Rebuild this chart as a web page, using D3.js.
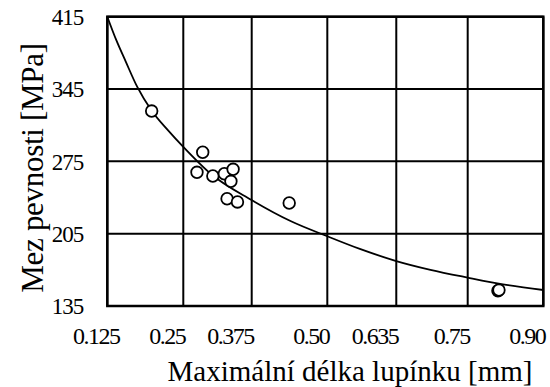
<!DOCTYPE html>
<html>
<head>
<meta charset="utf-8">
<script src="https://cdn.jsdelivr.net/npm/d3@7"></script>
</head>
<body style="margin:0;background:#fff">
<svg id="chart" width="550" height="387" style="font-family: 'Liberation Serif', Times, serif"></svg>
<script>
// ---- data ----
const xTicks = [0.125, 0.25, 0.375, 0.5, 0.635, 0.75, 0.9];
const xTickLabels = ["0.125", "0.25", "0.375", "0.50", "0.635", "0.75", "0.90"];
const yTicks = [135, 205, 275, 345, 415];
const yTickLabels = ["135", "205", "275", "345", "415"];

const pointX = [0.198, 0.2855, 0.275, 0.304, 0.325, 0.341, 0.337, 0.330, 0.349, 0.437, 0.810, 0.812];
const pointY = [323.7, 283.8, 264.4, 260.8, 263.0, 267.3, 255.7, 238.8, 235.7, 234.7, 149.8, 150.4];

const fitX = [0.125, 0.14, 0.155, 0.1743, 0.198, 0.225, 0.25, 0.3, 0.375, 0.44, 0.5, 0.565, 0.635, 0.69, 0.75, 0.82, 0.9];
const fitY = [415, 392, 372, 347, 324, 305, 289, 263, 237.5, 217, 202.5, 190, 178.5, 170, 162.5, 156, 150.5];

const xTitle = "Maximální délka lupínku [mm]";
const yTitle = "Mez pevnosti [MPa]";

// ---- layout ----
const L = 107.3, R = 543.3, T = 16.7, B = 306;
const gridFrac = [0, 0.1743, 0.3312, 0.5046, 0.6628, 0.8266, 1];
const FONT_STYLE = "font-family: 'Liberation Serif', Times, serif";

const svg = d3.select("#chart");

const x = d3.scaleLinear().domain(xTicks).range(gridFrac.map(f => L + f * (R - L)));
const y = d3.scaleLinear().domain([135, 415]).range([B, T]);

// grid
const g = svg.append("g");
g.selectAll("line.vg").data(xTicks).join("line")
  .attr("x1", d => x(d)).attr("x2", d => x(d))
  .attr("y1", T).attr("y2", B)
  .attr("stroke", "#000").attr("stroke-width", 2);
g.selectAll("line.hg").data(yTicks).join("line")
  .attr("x1", L).attr("x2", R)
  .attr("y1", d => y(d)).attr("y2", d => y(d))
  .attr("stroke", "#000").attr("stroke-width", 2);

// frame
svg.append("rect")
  .attr("x", L).attr("y", T).attr("width", R - L).attr("height", B - T)
  .attr("fill", "none").attr("stroke", "#000").attr("stroke-width", 2.5);

// fit curve
const fitData = fitX.map((v, i) => [v, fitY[i]]);
svg.append("path")
  .datum(fitData)
  .attr("fill", "none").attr("stroke", "#000").attr("stroke-width", 1.8)
  .attr("d", d3.line().x(d => x(d[0])).y(d => y(d[1])).curve(d3.curveMonotoneX));

// points
const pts = pointX.map((v, i) => [v, pointY[i]]);
svg.selectAll("circle.pt").data(pts).join("circle")
  .attr("cx", d => x(d[0])).attr("cy", d => y(d[1]))
  .attr("r", 5.8)
  .attr("fill", "#fff").attr("stroke", "#000").attr("stroke-width", 1.8);

// y tick labels
svg.selectAll("text.yt").data(yTicks).join("text")
  .attr("style", FONT_STYLE)
  .attr("x", L - 24).attr("y", d => y(d))
  .attr("dy", "0.36em")
  .attr("text-anchor", "end")
  .attr("font-size", 23).attr("letter-spacing", -1)
  .text((d, i) => yTickLabels[i]);

// x tick labels
svg.selectAll("text.xt").data(xTicks).join("text")
  .attr("style", FONT_STYLE)
  .attr("x", (d, i) => i === 0 ? x(d) - 11 : x(d) + 2)
  .attr("y", 344)
  .attr("text-anchor", (d, i) => i === 0 ? "middle" : "end")
  .attr("font-size", 24).attr("letter-spacing", -1.5)
  .text((d, i) => xTickLabels[i]);

// axis titles
svg.append("text")
  .attr("style", FONT_STYLE)
  .attr("x", 350).attr("y", 381)
  .attr("text-anchor", "middle")
  .attr("font-size", 29)
  .text(xTitle);

svg.append("text")
  .attr("style", FONT_STYLE)
  .attr("transform", "translate(43,168) rotate(-90)")
  .attr("text-anchor", "middle")
  .attr("font-size", 31).attr("letter-spacing", -0.3)
  .text(yTitle);
</script>
</body>
</html>
